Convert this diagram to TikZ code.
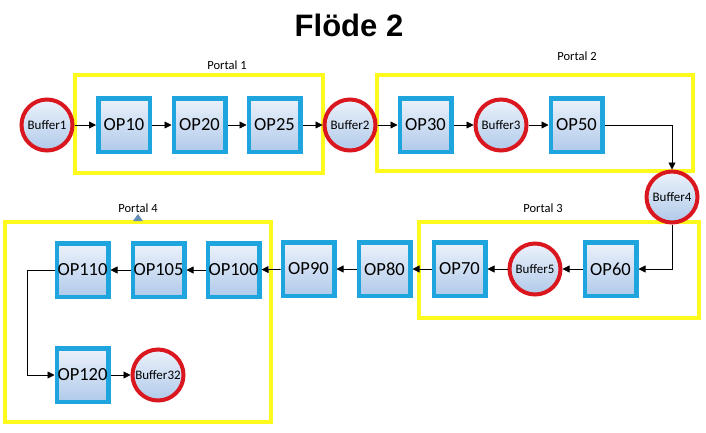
\documentclass[tikz,border=0pt]{standalone}
\usepackage{fontspec}
\setmainfont{Carlito}
\newfontfamily\titlefont{Liberation Sans}
\usetikzlibrary{arrows.meta}
\definecolor{opblue}{RGB}{30,165,222}
\definecolor{bufred}{RGB}{218,22,30}
\definecolor{portyel}{RGB}{255,250,30}
\definecolor{filltop}{RGB}{236,242,251}
\definecolor{fillbot}{RGB}{176,202,234}
\definecolor{handle}{RGB}{100,140,180}
\tikzset{
  opbox/.style={draw=opblue, line width=4.5pt, rectangle, minimum width=51.5pt, minimum height=53.5pt,
    top color=filltop, bottom color=fillbot, inner sep=0pt, font=\fontsize{18.5}{20}\selectfont},
  bufcirc/.style={draw=bufred, line width=4pt, circle, minimum size=51pt,
    top color=filltop, bottom color=fillbot, inner sep=0pt, font=\fontsize{13}{15}\selectfont},
  portal/.style={draw=portyel, line width=4pt},
  portlabel/.style={font=\fontsize{12.5}{14}\selectfont},
  flow/.style={draw=black, line width=0.8pt, -{Triangle[length=7pt,width=7pt]}}
}
\begin{document}
\begin{tikzpicture}[x=1pt,y=-1pt]
\useasboundingbox[fill=white] (0,0) rectangle (706,432);
% title
\node (title) at (349,25) {\titlefont\bfseries\fontsize{31}{34}\selectfont Flöde 2};
% portals
\draw[portal] (75,75) rectangle (323,173);
\draw[portal] (377,75) rectangle (693,171);
\draw[portal] (419,222) rectangle (699,318);
\draw[portal] (5,222) rectangle (271,422);
\node[portlabel] (p1) at (227,65) {Portal 1};
\node[portlabel] (p2) at (577,56) {Portal 2};
\node[portlabel] (p3) at (543,208) {Portal 3};
\node[portlabel] (p4) at (138,208) {Portal 4};
\fill[handle] (133,221) -- (143,221) -- (138,214) -- cycle;
% row 1
\node[bufcirc] (b1) at (47,125) {Buffer1};
\node[opbox] (op10) at (124,125) {OP10};
\node[opbox] (op20) at (199.5,125) {OP20};
\node[opbox] (op25) at (274.5,125) {OP25};
\node[bufcirc] (b2) at (350,125) {Buffer2};
\node[opbox] (op30) at (425.5,125) {OP30};
\node[bufcirc] (b3) at (501,125) {Buffer3};
\node[opbox] (op50) at (576.5,125) {OP50};
\node[bufcirc] (b4) at (672,197) {Buffer4};
% row 2
\node[opbox] (op60) at (610.5,269) {OP60};
\node[bufcirc] (b5) at (535,269) {Buffer5};
\node[opbox] (op70) at (459.5,269) {OP70};
\node[opbox] (op80) at (384.5,269) {OP80};
\node[opbox] (op90) at (308.5,269) {OP90};
\node[opbox] (op100) at (233.5,270) {OP100};
\node[opbox] (op105) at (158.5,270) {OP105};
\node[opbox] (op110) at (82.5,270) {OP110};
\node[opbox] (op120) at (82.5,375) {OP120};
\node[bufcirc] (b32) at (158,375) {Buffer32};
% connectors
\draw[flow] (b1) -- (op10);
\draw[flow] (op10) -- (op20);
\draw[flow] (op20) -- (op25);
\draw[flow] (op25) -- (b2);
\draw[flow] (b2) -- (op30);
\draw[flow] (op30) -- (b3);
\draw[flow] (b3) -- (op50);
\draw[flow] (op50.east) -| (b4.north);
\draw[flow] (b4.south) |- (op60.east);
\draw[flow] (op60) -- (b5);
\draw[flow] (b5) -- (op70);
\draw[flow] (op70) -- (op80);
\draw[flow] (op80) -- (op90);
\draw[flow] (op90) -- (op100);
\draw[flow] (op100) -- (op105);
\draw[flow] (op105) -- (op110);
\draw[flow] (op110.west) -- ++(-27,0) |- (op120.west);
\draw[flow] (op120) -- (b32);
\end{tikzpicture}
\end{document}
